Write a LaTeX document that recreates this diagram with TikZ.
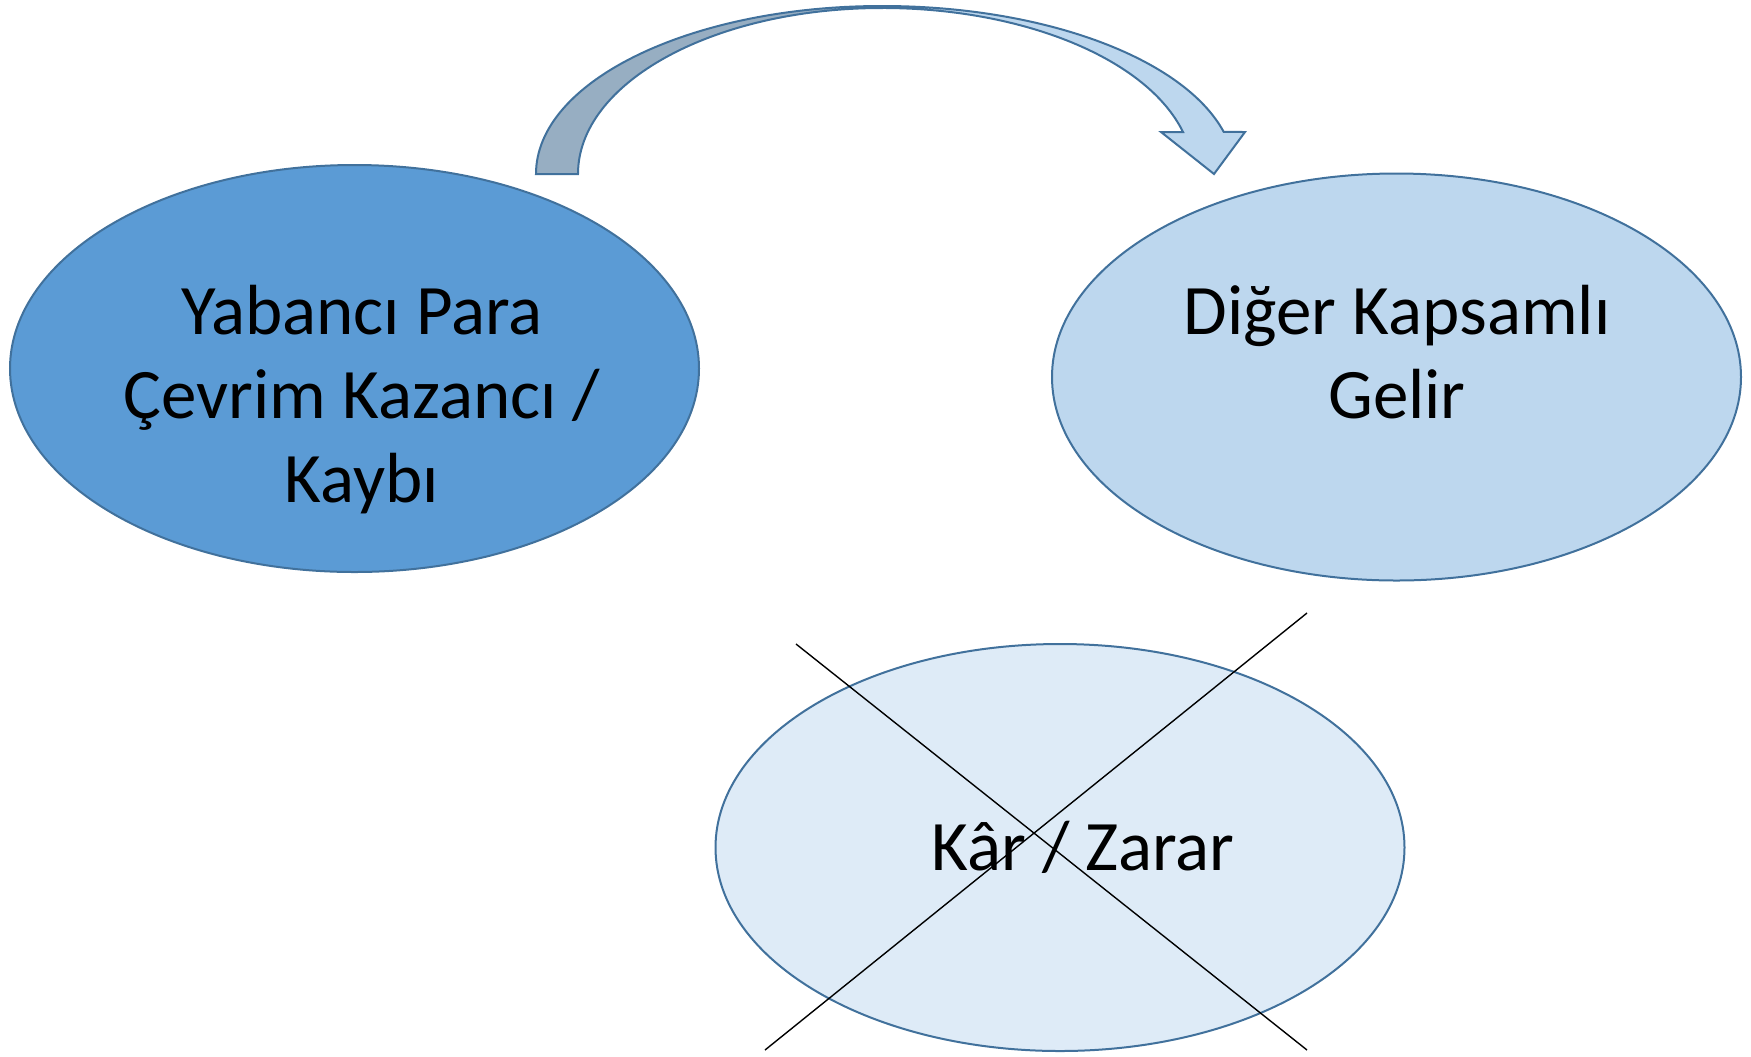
\documentclass[tikz,border=0pt]{standalone}
\usepackage{fontspec}
\setmainfont{Carlito}
\usetikzlibrary{shapes.geometric}
\definecolor{bordc}{RGB}{65,113,156}
\definecolor{darkfill}{RGB}{91,155,213}
\definecolor{midfill}{RGB}{189,215,238}
\definecolor{lightfill}{RGB}{222,235,247}
\definecolor{arrowdark}{RGB}{151,174,194}
\tikzset{
  bubble/.style={ellipse, draw=bordc, line width=1pt, inner sep=0pt,
    minimum width=344.5pt, minimum height=203.5pt},
  lbl/.style={align=center, inner sep=0pt, font=\fontsize{35.5}{42}\selectfont},
  crossline/.style={draw=black, line width=0.7pt},
  arrowband/.style={draw=bordc, line width=1pt, line join=miter}
}
\begin{document}
\begin{tikzpicture}[x=0.5pt,y=-0.5pt]
\useasboundingbox (0,0) rectangle (1751,1056);
% ellipses
\node[bubble, fill=darkfill] (fx) at (354.5,368.5) {};
\node[bubble, fill=midfill] (oci) at (1396.5,377) {};
\node[bubble, fill=lightfill] (pl) at (1060,847.5) {};
% texts
\node[lbl] (fxt) at (362,400) {Yabancı Para\\Çevrim Kazancı /\\Kaybı};
\node[lbl] (ocit) at (1397,352) {Diğer Kapsamlı\\Gelir};
\node[lbl] (plt) at (1083,847) {Kâr / Zarar};
% curved arrow
\filldraw[arrowband, fill=arrowdark] (536,174) arc[start angle=180, end angle=270, x radius=346, y radius=168]
  -- (882,8) arc[start angle=270, end angle=180, x radius=304, y radius=166] -- cycle;
\filldraw[arrowband, fill=midfill] (882,6) arc[start angle=270, end angle=345.5, x radius=353, y radius=168]
  -- (1245,132) -- (1214,174) -- (1161,132) -- (1183,132)
  arc[start angle=345.35, end angle=270, x radius=311, y radius=166] -- cycle;
% cross
\coordinate (x1a) at (796,644);
\coordinate (x1b) at (1307,1050);
\coordinate (x2a) at (765,1050);
\coordinate (x2b) at (1307,613);
\draw[crossline] (x1a) -- (x1b);
\draw[crossline] (x2a) -- (x2b);
\end{tikzpicture}
\end{document}
